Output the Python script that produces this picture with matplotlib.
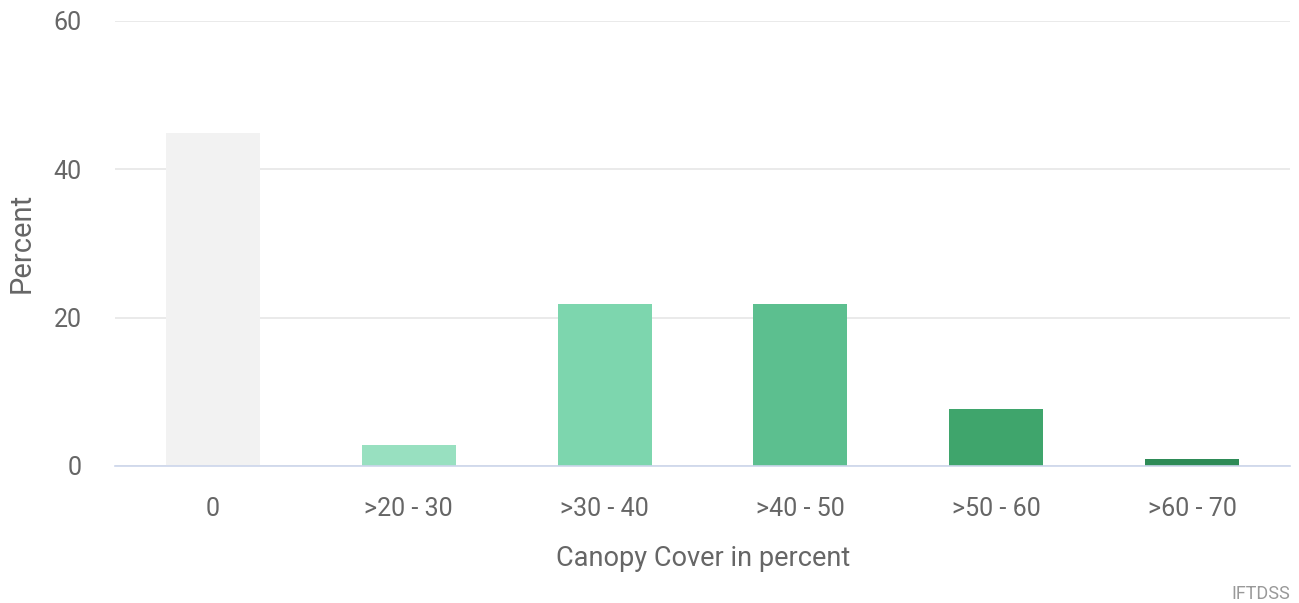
import matplotlib
matplotlib.use("Agg")
import matplotlib.pyplot as plt

categories = ["0", ">20 - 30", ">30 - 40", ">40 - 50", ">50 - 60", ">60 - 70"]
values = [44.9, 2.8, 21.8, 21.8, 7.7, 0.9]
colors = ["#f2f2f2", "#98e0c0", "#7dd6ae", "#5cbf8f", "#3fa56c", "#2e8b57"]
yticks = [0, 20, 40, 60]

plt.rcParams["font.family"] = ["Roboto", "DejaVu Sans"]

fig = plt.figure(figsize=(12.99, 6.03), dpi=100)
ax = fig.add_axes([0.0885, 0.2272, 0.9045, 0.738])
x = list(range(len(categories)))
ax.bar(x, values, width=0.48, color=colors, zorder=3)
ax.set_xlim(-0.5, len(categories) - 0.5)
ax.set_ylim(0, 60)
ax.set_yticks(yticks)
ax.set_yticklabels([str(t) for t in yticks])
ax.set_xticks(x)
ax.set_xticklabels(categories)
ax.grid(axis="y", color="#e6e6e6", linewidth=1.2, zorder=0)
for s in ["top", "right", "left"]:
    ax.spines[s].set_visible(False)
ax.spines["bottom"].set_color("#ccd6eb")
ax.spines["bottom"].set_linewidth(1.2)
ax.spines["bottom"].set_zorder(4)
ax.tick_params(axis="both", length=0, labelcolor="#666666", labelsize=18)
ax.tick_params(axis="y", pad=24)
ax.tick_params(axis="x", pad=22)
fig.text(0.5415, 1 - 559 / 603, "Canopy Cover in percent", ha="center", va="center",
         fontsize=19.5, color="#666666")
fig.text(22 / 1299, 1 - 243 / 603, "Percent", ha="center", va="center", rotation=90,
         fontsize=21, color="#666666")
fig.text(0.993, 1 - 599 / 603, "IFTDSS", ha="right", va="baseline", fontsize=13,
         color="#999999")
fig.savefig("out.png", dpi=100)
